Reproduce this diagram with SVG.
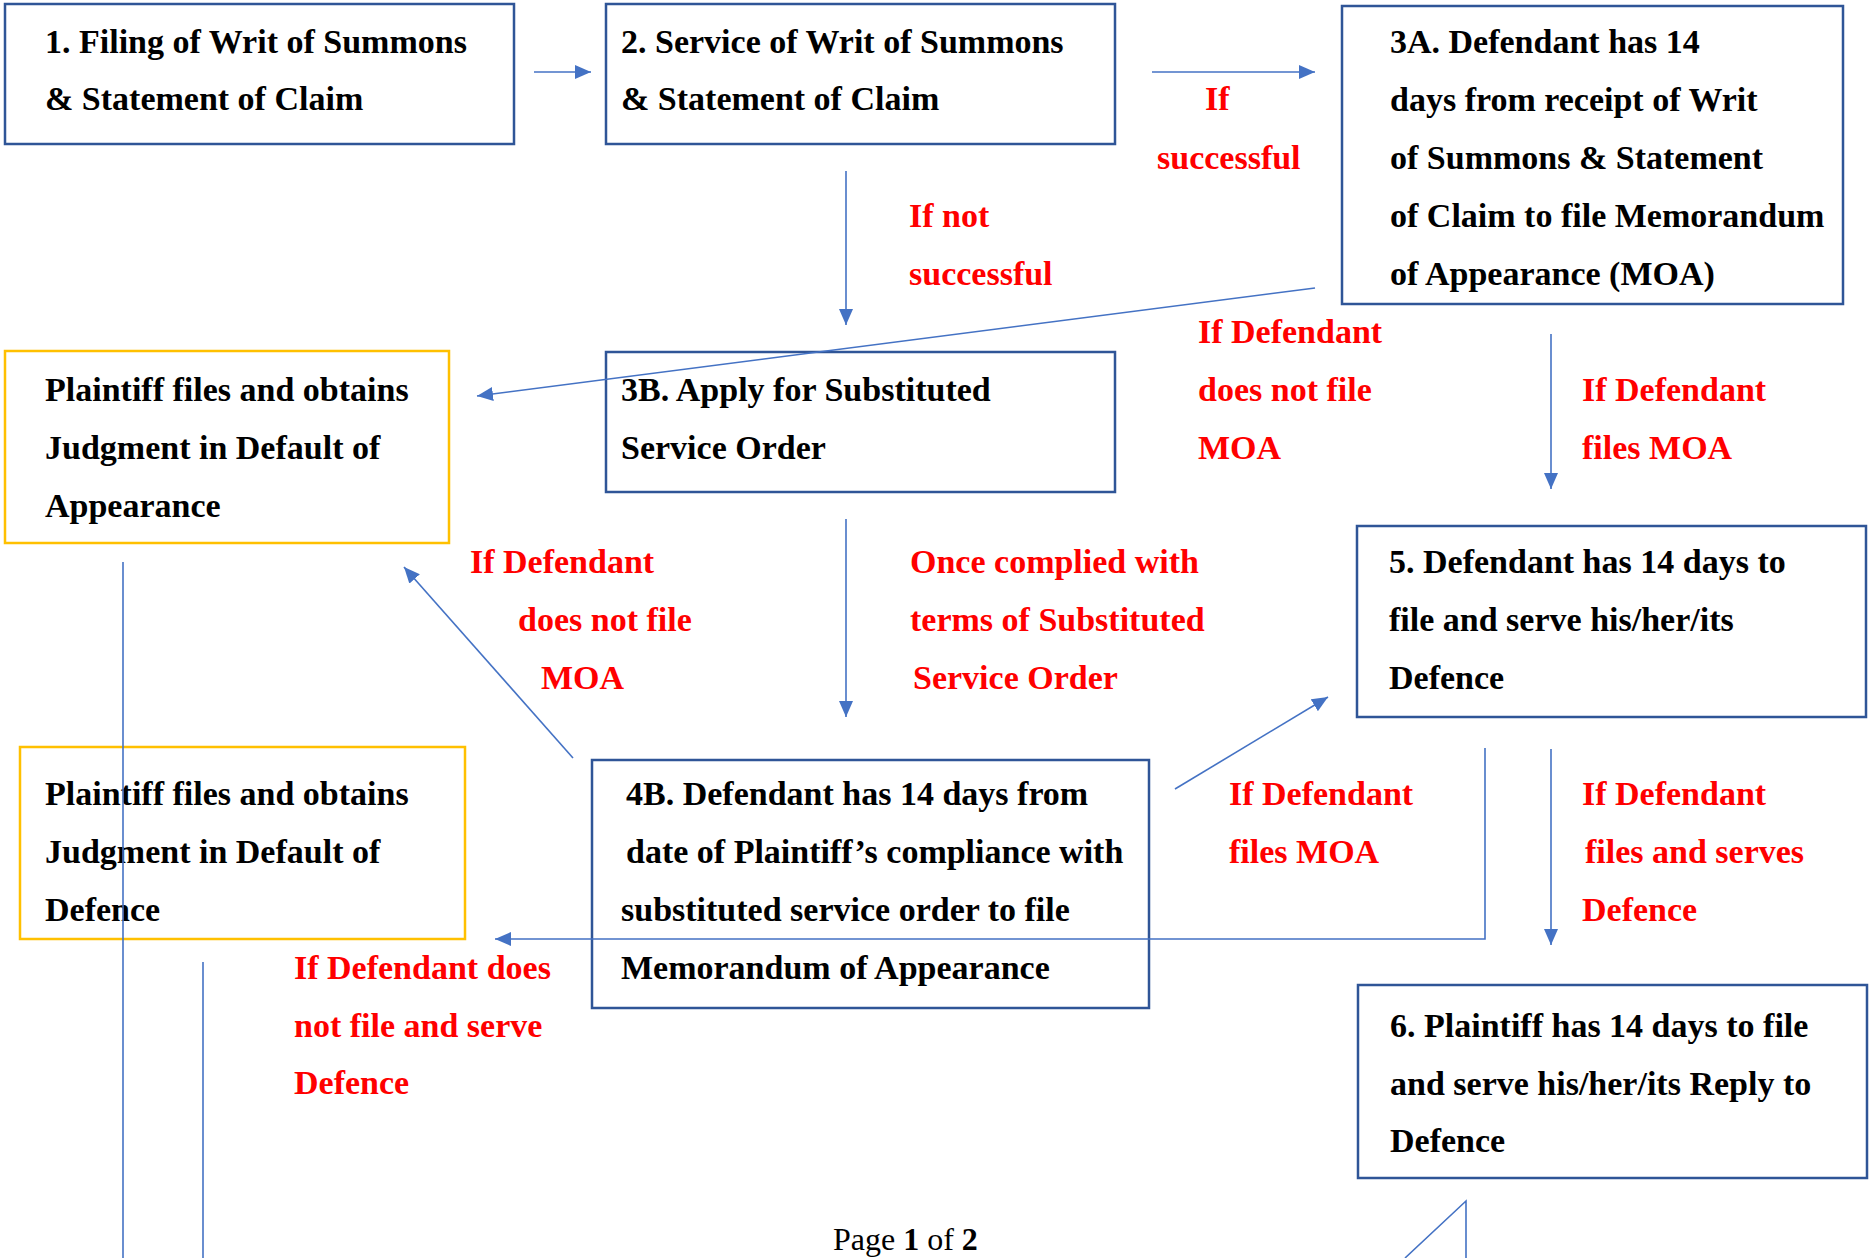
<svg xmlns="http://www.w3.org/2000/svg" width="1870" height="1258" viewBox="0 0 1870 1258">
<style>
.box{fill:#fff;stroke:#2F5597;stroke-width:2.5}
.ybox{fill:#fff;stroke:#FFC000;stroke-width:2.5}
.t{font-family:"Liberation Serif","Times New Roman",serif;font-weight:bold;font-size:34px;fill:#000}
.r{font-family:"Liberation Serif","Times New Roman",serif;font-weight:bold;font-size:34px;fill:#FF0000}
.c{fill:none;stroke:#4472C4;stroke-width:1.6}
.a{marker-end:url(#ah)}
.pg{font-family:"Liberation Serif","Times New Roman",serif;font-size:32px;fill:#000}
</style>
<defs>
<marker id="ah" markerUnits="userSpaceOnUse" markerWidth="17" markerHeight="15" refX="16" refY="7" orient="auto">
<path d="M0,0 L16,7 L0,14 z" fill="#4472C4"/>
</marker>
</defs>
<rect width="1870" height="1258" fill="#fff"/>
<g id="n1"><rect class="box" x="5" y="4" width="509" height="140"/>
<text class="t" x="45" y="53">1. Filing of Writ of Summons</text>
<text class="t" x="45" y="110">&amp; Statement of Claim</text></g>
<g id="n2"><rect class="box" x="606" y="4" width="509" height="140"/>
<text class="t" x="621" y="53">2. Service of Writ of Summons</text>
<text class="t" x="621" y="110">&amp; Statement of Claim</text></g>
<g id="n3a"><rect class="box" x="1342" y="6" width="501" height="298"/>
<text class="t" x="1390" y="53">3A. Defendant has 14</text>
<text class="t" x="1390" y="111">days from receipt of Writ</text>
<text class="t" x="1390" y="169">of Summons &amp; Statement</text>
<text class="t" x="1390" y="227">of Claim to file Memorandum</text>
<text class="t" x="1390" y="285">of Appearance (MOA)</text></g>
<g id="p1"><rect class="ybox" x="5" y="351" width="444" height="192"/>
<text class="t" x="45" y="401">Plaintiff files and obtains</text>
<text class="t" x="45" y="459">Judgment in Default of</text>
<text class="t" x="45" y="517">Appearance</text></g>
<g id="n3b"><rect class="box" x="606" y="352" width="509" height="140"/>
<text class="t" x="621" y="401">3B. Apply for Substituted</text>
<text class="t" x="621" y="459">Service Order</text></g>
<g id="n5"><rect class="box" x="1357" y="526" width="509" height="191"/>
<text class="t" x="1389" y="573">5. Defendant has 14 days to</text>
<text class="t" x="1389" y="631">file and serve his/her/its</text>
<text class="t" x="1389" y="689">Defence</text></g>
<g id="p2"><rect class="ybox" x="20" y="747" width="445" height="192"/>
<text class="t" x="45" y="805">Plaintiff files and obtains</text>
<text class="t" x="45" y="863">Judgment in Default of</text>
<text class="t" x="45" y="921">Defence</text></g>
<g id="n4b"><rect class="box" x="592" y="760" width="557" height="248"/>
<text class="t" x="626" y="805">4B. Defendant has 14 days from</text>
<text class="t" x="626" y="863">date of Plaintiff’s compliance with</text>
<text class="t" x="621" y="921">substituted service order to file</text>
<text class="t" x="621" y="979">Memorandum of Appearance</text></g>
<g id="n6"><rect class="box" x="1358" y="985" width="509" height="193"/>
<text class="t" x="1390" y="1037">6. Plaintiff has 14 days to file</text>
<text class="t" x="1390" y="1095">and serve his/her/its Reply to</text>
<text class="t" x="1390" y="1152">Defence</text></g>
<g id="connectors">
<line class="c a" x1="534" y1="72" x2="591" y2="72"/>
<line class="c a" x1="1152" y1="72" x2="1315" y2="72"/>
<line class="c a" x1="846" y1="171" x2="846" y2="325"/>
<line class="c a" x1="1315" y1="288" x2="477" y2="396"/>
<line class="c a" x1="1551" y1="334" x2="1551" y2="489"/>
<line class="c a" x1="846" y1="519" x2="846" y2="717"/>
<line class="c a" x1="573" y1="758" x2="404" y2="567"/>
<line class="c a" x1="1175" y1="789" x2="1328" y2="697"/>
<polyline class="c a" points="1485,748 1485,939 495,939"/>
<line class="c a" x1="1551" y1="749" x2="1551" y2="945"/>
<line class="c" x1="123" y1="562" x2="123" y2="1258"/>
<line class="c" x1="203" y1="962" x2="203" y2="1258"/>
<polyline class="c" points="1466,1258 1466,1201 1405,1258"/>
</g>
<g id="labels">
<text class="r" x="1205" y="110">If</text>
<text class="r" x="1157" y="169">successful</text>
<text class="r" x="909" y="227">If not</text>
<text class="r" x="909" y="285">successful</text>
<text class="r" x="1198" y="343">If Defendant</text>
<text class="r" x="1198" y="401">does not file</text>
<text class="r" x="1198" y="459">MOA</text>
<text class="r" x="1582" y="401">If Defendant</text>
<text class="r" x="1582" y="459">files MOA</text>
<text class="r" x="470" y="573">If Defendant</text>
<text class="r" x="518" y="631">does not file</text>
<text class="r" x="541" y="689">MOA</text>
<text class="r" x="910" y="573">Once complied with</text>
<text class="r" x="910" y="631">terms of Substituted</text>
<text class="r" x="913" y="689">Service Order</text>
<text class="r" x="1229" y="805">If Defendant</text>
<text class="r" x="1229" y="863">files MOA</text>
<text class="r" x="1582" y="805">If Defendant</text>
<text class="r" x="1585" y="863">files and serves</text>
<text class="r" x="1582" y="921">Defence</text>
<text class="r" x="294" y="979">If Defendant does</text>
<text class="r" x="294" y="1037">not file and serve</text>
<text class="r" x="294" y="1094">Defence</text>
</g>
<text class="pg" x="833" y="1250">Page <tspan font-weight="bold">1</tspan> of <tspan font-weight="bold">2</tspan></text>
</svg>
